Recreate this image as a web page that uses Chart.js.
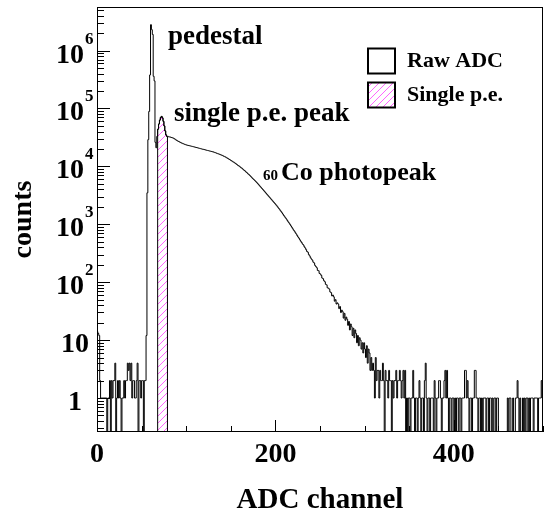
<!DOCTYPE html>
<html><head><meta charset="utf-8">
<script src="https://cdn.jsdelivr.net/npm/chart.js@4.4.1/dist/chart.umd.min.js"></script>
<style>html,body{margin:0;padding:0;background:#fff}canvas{display:block}</style>
</head><body>
<canvas id="c" width="549" height="518"></canvas>
<script>
// ---- axis ranges ----
const xMin = 0, xMax = 500, binWidth = 1;
const yMin = 0.259, yMax = 5.66e6;

// ---- histogram contents (counts per ADC channel) ----
// channels 0-54 : low-side noise
const countsLowNoise = [14,13,12,2,1,1,1,1,1,1,
  1,0,1,1,2,0,2,1,2,2,
  4,0,1,2,1,2,1,0,1,1,
  2,1,2,2,4,3,4,2,4,1,
  2,2,1,1,2,4,0,2,2,1,
  2,2,0,2,2];
// channels 55-78 : pedestal and single p.e. peak
const countsPedestal = [12,3500,29000,89000,380000,2800000,2300000,1900000,360000,300000,
  26000,21000,33000,44000,54000,63000,70000,73000,69000,60000,
  50000,41000,35000,33000];
// channels 79-239 : continuum
const countsContinuum = [33000,32400,32300,32000,31600,31200,30900,30200,29500,28800,
  28100,27500,27000,26500,26000,25500,25100,24700,24400,24000,
  23700,23400,23200,23000,22800,22600,22400,22200,22000,21800,
  21600,21400,21200,21000,20800,20600,20400,20200,20000,19800,
  19700,19500,19300,19100,18900,18800,18600,18400,18300,18100,
  17900,17800,17500,17300,17100,16800,16600,16400,16200,15900,
  15700,15500,15200,14900,14700,14400,14100,13800,13500,13200,
  12900,12600,12300,12000,11800,11500,11200,10900,10600,10300,
  10100,9800,9500,9300,9000,8700,8500,8200,7900,7700,
  7400,7200,6950,6700,6450,6200,6000,5800,5600,5400,
  5200,5000,4800,4600,4420,4240,4070,3910,3750,3600,
  3450,3310,3180,3050,2930,2810,2690,2590,2480,2380,
  2290,2190,2100,2010,1910,1830,1740,1660,1580,1500,
  1420,1350,1290,1230,1160,1100,1050,995,940,890,
  840,794,760,715,680,640,603,575,540,510,
  485,457,440,410,390,365,339,330,300,285,
  265];
// channels 240-320 : falling tail
const countsTail = [251,240,222,215,195,186,178,160,158,142,
  138,131,118,115,106,102,92,90,80,79,
  76,68,66,58,60,56,47,50,42,44,
  42,35,38,30,33,31,24,29,22,25,
  23,18,21,15,19,17,12,16,11,15,
  13,9,12,8,11,10,7,9,6,9,
  7,5,8,4,7,6,3,5,3,4,
  3,1,5,2,3,3,1,3,2,2,
  4];
// channels 321-499 : high-side noise
const countsHighNoise = [2,0,3,2,2,1,3,2,2,0,
  2,1,2,2,3,1,2,2,3,2,
  1,2,3,1,3,0,1,0,1,1,
  0,1,1,3,1,0,1,1,0,1,
  2,1,0,1,1,0,2,4,1,0,
  1,1,0,1,1,1,0,2,1,0,
  1,1,2,2,1,0,1,1,2,3,
  1,3,1,0,1,1,0,1,1,0,
  1,0,1,1,0,1,1,0,1,1,
  1,3,3,1,2,1,0,1,1,0,
  1,1,3,3,1,1,0,1,1,0,
  1,0,1,1,1,0,1,1,0,1,
  1,0,1,0,1,1,0,1,1,0,
  0,0,0,0,0,0,0,0,0,1,
  0,1,1,0,0,1,0,0,1,1,
  2,1,0,1,0,0,1,0,1,0,
  1,1,0,1,0,1,1,1,0,1,
  1,1,1,0,1,1,1,2,1];

// single p.e. selection window (bins)
const speFirstBin = 68, speLastBin = 78;

// ---- ticks / labels ----
const xTickValues = [0,50,100,150,200,250,300,350,400,450,500];
const xLabeledTicks = [0,200,400];
const yDecadeExponents = [0,1,2,3,4,5,6];
const seriesLabels = ['Raw ADC','Single p.e.'];

const FONT = "'Liberation Serif','Times New Roman',serif";

const counts = [].concat(countsLowNoise, countsPedestal, countsContinuum, countsTail, countsHighNoise);
const floorY = v => (v > 0 ? v : yMin);

const rawPoints = counts.map((c, i) => ({x: xMin + i * binWidth, y: floorY(c)}));
rawPoints.push({x: xMin + counts.length * binWidth, y: floorY(counts[counts.length - 1])});

const spePoints = [{x: speFirstBin * binWidth, y: yMin}];
for (let b = speFirstBin; b <= speLastBin; b++) spePoints.push({x: b * binWidth, y: floorY(counts[b])});
spePoints.push({x: (speLastBin + 1) * binWidth, y: floorY(counts[speLastBin])});
spePoints.push({x: (speLastBin + 1) * binWidth, y: yMin});

const canvas = document.getElementById('c');
const ctx0 = canvas.getContext('2d');
function makeHatch() {
  const p = document.createElement('canvas');
  p.width = 7; p.height = 7;
  const g = p.getContext('2d');
  g.strokeStyle = '#ff3cff'; g.lineWidth = 0.8;
  g.beginPath();
  g.moveTo(0, 7); g.lineTo(7, 0);
  g.moveTo(-1, 1); g.lineTo(1, -1);
  g.moveTo(6, 8); g.lineTo(8, 6);
  g.stroke();
  return ctx0.createPattern(p, 'repeat');
}
const hatch = makeHatch();

const decor = {
  id: 'rootDecor',
  afterDraw(chart) {
    const {ctx, chartArea: a, scales: {x, y}} = chart;
    ctx.save();
    ctx.strokeStyle = '#000'; ctx.fillStyle = '#000'; ctx.lineWidth = 1;
    // frame
    ctx.strokeRect(a.left + 0.5, a.top + 0.5, a.right - a.left - 1, a.bottom - a.top - 1);
    // y ticks (inward)
    ctx.beginPath();
    for (let e = -1; e <= 7; e++) {
      for (let m = 1; m <= 9; m++) {
        const v = m * Math.pow(10, e);
        if (v < yMin || v > yMax) continue;
        const py = Math.round(y.getPixelForValue(v)) + 0.5;
        const len = m === 1 ? 13 : 7;
        ctx.moveTo(a.left, py); ctx.lineTo(a.left + len, py);
      }
    }
    // x ticks (inward)
    xTickValues.forEach(v => {
      const px = Math.round(x.getPixelForValue(v)) + 0.5;
      const len = xLabeledTicks.includes(v) ? 12 : 6;
      ctx.moveTo(px, a.bottom); ctx.lineTo(px, a.bottom - len);
    });
    ctx.stroke();
    // y labels
    ctx.textBaseline = 'alphabetic';
    yDecadeExponents.forEach(e => {
      const py = y.getPixelForValue(Math.pow(10, e));
      ctx.font = 'bold 28px ' + FONT;
      ctx.textAlign = 'right';
      if (e === 0) {
        ctx.fillText('1', 82, py + 12);
      } else if (e === 1) {
        ctx.fillText('10', 89, py + 12);
      } else {
        ctx.fillText('10', 84, py + 12);
        ctx.font = 'bold 17px ' + FONT;
        ctx.textAlign = 'left';
        ctx.fillText(String(e), 85, py - 7);
      }
    });
    // annotations
    ctx.textAlign = 'left';
    ctx.font = 'bold 27px ' + FONT;
    ctx.fillText('pedestal', 168, 44);
    ctx.fillText('single p.e. peak', 174, 121);
    ctx.font = 'bold 15px ' + FONT;
    ctx.fillText('60', 263, 180);
    ctx.font = 'bold 26px ' + FONT;
    ctx.fillText('Co photopeak', 281, 180);
    // legend
    const boxes = [{y: 48.5, fill: '#fff'}, {y: 82.5, fill: hatch}];
    seriesLabels.forEach((lab, i) => {
      const b = boxes[i];
      ctx.fillStyle = b.fill;
      ctx.fillRect(368, b.y, 27, 25);
      ctx.lineWidth = 2; ctx.strokeStyle = '#000';
      ctx.strokeRect(368, b.y, 27, 25);
      ctx.fillStyle = '#000';
      ctx.font = 'bold 22px ' + FONT;
      ctx.fillText(lab, 407, b.y + 18.5);
    });
    ctx.restore();
  }
};

new Chart(canvas, {
  type: 'line',
  data: {
    datasets: [
      {label: seriesLabels[0], data: rawPoints, borderColor: '#000', borderWidth: 1, pointRadius: 0,
       fill: false, stepped: 'before'},
      {label: seriesLabels[1], data: spePoints, borderColor: '#000', borderWidth: 1, pointRadius: 0,
       backgroundColor: hatch, fill: 'start', stepped: 'before'}
    ]
  },
  options: {
    responsive: false, animation: false, events: [],
    layout: {padding: {top: 7, right: 0, left: 0, bottom: 0}},
    scales: {
      x: {
        type: 'linear', min: xMin, max: xMax,
        grid: {display: false, drawTicks: false}, border: {display: false},
        afterBuildTicks: s => { s.ticks = xTickValues.map(v => ({value: v})); },
        ticks: {autoSkip: false, maxRotation: 0, padding: 6, color: '#000',
          font: {family: FONT, size: 28, weight: 'bold'},
          callback: v => (xLabeledTicks.includes(v) ? String(v) : '')},
        title: {display: true, text: 'ADC channel', color: '#000',
          font: {family: FONT, size: 29, weight: 'bold'}, padding: {top: 0, bottom: 0}},
        afterFit: s => { s.height = 86; }
      },
      y: {
        type: 'logarithmic', min: yMin, max: yMax,
        grid: {display: false, drawTicks: false}, border: {display: false},
        ticks: {display: false},
        title: {display: true, text: 'counts', color: '#000',
          font: {family: FONT, size: 28, weight: 'bold'}, padding: {top: 7, bottom: 0}},
        afterFit: s => { s.width = 97; }
      }
    },
    plugins: {legend: {display: false}, tooltip: {enabled: false}}
  },
  plugins: [decor]
});
</script>
</body></html>
